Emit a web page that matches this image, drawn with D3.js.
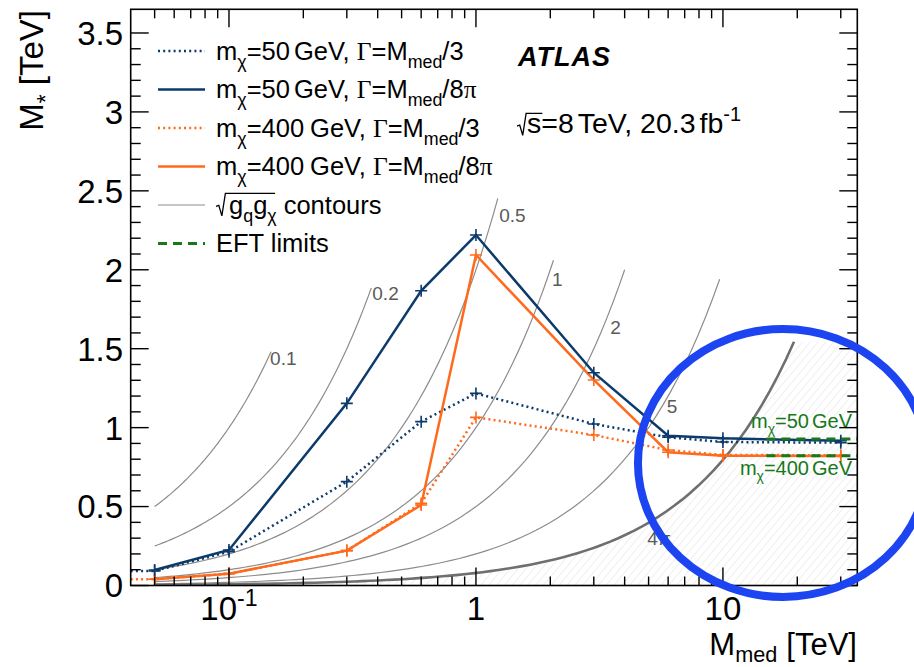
<!DOCTYPE html>
<html>
<head>
<meta charset="utf-8">
<script src="https://cdn.jsdelivr.net/npm/d3@7"></script>
<style>
  body { margin: 0; background: #fff; }
  svg { display: block; }
  text { font-family: "Liberation Sans", Arial, Helvetica, sans-serif; }
</style>
</head>
<body>
<svg id="chart" width="914" height="667"></svg>
<script>
// ---- data -------------------------------------------------------------
// mediator masses of the simplified-model points [TeV]
const mMed = [0.05, 0.1, 0.3, 0.6, 1, 3, 6, 10, 30];
// the wide-width scans start at the left edge of the plot
const mMedWide = [0.04, 0.05, 0.1, 0.3, 0.6, 1, 3, 6, 10, 30];

// lower limits on the suppression scale M* [TeV]
const mStar50Wide    = [0.092, 0.092, 0.214, 0.658, 1.038, 1.217, 1.023, 0.939, 0.909, 0.905];
const mStar50Narrow  = [0.098, 0.225, 1.154, 1.867, 2.220, 1.348, 0.949, 0.932, 0.917];
const mStar400Wide   = [0.040, 0.040, 0.075, 0.221, 0.520, 1.065, 0.953, 0.858, 0.827, 0.825];
const mStar400Narrow = [0.040, 0.075, 0.221, 0.510, 2.094, 1.302, 0.844, 0.822, 0.820];

// coupling contours sqrt(gq*gchi): M* = Mmed / sqrt(gq*gchi)
const couplings      = [0.1, 0.2, 0.5, 1, 2, 5, 4 * Math.PI];
const couplingLabels = ["0.1", "0.2", "0.5", "1", "2", "5", "4π"];
const contourMmedMax = [0.148, 0.377, 1.226, 2.06, 4.0, 9.7, 19.4];

// EFT limits (mchi = 50 GeV, 400 GeV) [TeV]
const eftMmed   = [15, 35];
const eftLimits = [0.928, 0.822];

// axis ticks
const yMajorTicks = [0, 0.5, 1, 1.5, 2, 2.5, 3, 3.5];
const yTickLabels = ["0", "0.5", "1", "1.5", "2", "2.5", "3", "3.5"];
const xMajorTicks = [0.1, 1, 10];
const xTickLabels = [[{t: "10"}, {t: "-1", sup: true}], [{t: "1"}], [{t: "10"}]];

// ---- layout -----------------------------------------------------------
const svg = d3.select("#chart");
const x = d3.scaleLog().domain([0.04, 35]).range([130.7, 857.3]);
const y = d3.scaleLinear().domain([0, 3.65]).range([585.5, 9.3]);
const [x0, x1] = x.range();
const [yb, yt] = y.range();

const BLUE = "#0c3a6b", ORANGE = "#ff6a1c", GREEN = "#16781a", GREY = "#8c8c8c";
const SERIF = '"Liberation Serif", "Times New Roman", serif';

// text helper: parts with optional sub/superscript and serif glyphs
function rich(sel, parts, fs, subShift = 0.32) {
  let shift = 0;
  parts.forEach(p => {
    const ts = sel.append("tspan").text(p.t);
    const target = p.sub ? subShift * fs : p.sup ? -0.42 * fs : 0;
    if (target !== shift) ts.attr("dy", target - shift);
    shift = target;
    if (p.sub || p.sup) ts.attr("font-size", 0.7 * fs);
    if (p.serif) ts.attr("font-family", SERIF);
    if (p.dx) ts.attr("dx", p.dx);
  });
  return sel;
}

const defs = svg.append("defs");
defs.append("clipPath").attr("id", "plotClip")
  .append("rect").attr("x", x0).attr("y", yt).attr("width", x1 - x0).attr("height", yb - yt);

const hatch = defs.append("pattern").attr("id", "hatch")
  .attr("patternUnits", "userSpaceOnUse").attr("width", 6).attr("height", 6)
  .attr("patternTransform", "rotate(40)");
hatch.append("line").attr("x1", 0).attr("y1", 0).attr("x2", 0).attr("y2", 6)
  .attr("stroke", "#e0e0e0").attr("stroke-width", 1);

const plot = svg.append("g").attr("clip-path", "url(#plotClip)");

// non-perturbative region below the 4π contour
const g4pi = couplings[couplings.length - 1];
const capMstar = contourMmedMax[contourMmedMax.length - 1] / g4pi;
const samples = d3.range(0, 201).map(i => 0.04 * Math.pow(35 / 0.04, i / 200));
plot.append("path")
  .attr("d", d3.area().x(d => x(d)).y0(yb).y1(d => y(Math.min(d / g4pi, capMstar)))(samples))
  .attr("fill", "url(#hatch)");

// coupling contours
couplings.forEach((g, i) => {
  const pts = d3.range(0, 81).map(k => 0.05 * Math.pow(contourMmedMax[i] / 0.05, k / 80));
  const last = i === couplings.length - 1;
  plot.append("path")
    .attr("d", d3.line().x(d => x(d)).y(d => y(d / g))(pts))
    .attr("fill", "none")
    .attr("stroke", last ? "#6f6f6f" : GREY)
    .attr("stroke-width", last ? 2.6 : 1.2);
});

// contour labels: height along the contour [TeV] and offsets [px]
const contourLabelAt = [1.44, 1.85, 2.35, 1.94, 1.64, 1.14, 0.345];
const contourLabelDx = [2, 3, 6, 5, 7, 4, 14];
const contourLabelDy = [7, 7, 7, 7, 7, 7, 14];
couplings.forEach((g, i) => {
  svg.append("text")
    .attr("x", x(contourLabelAt[i] * g) + contourLabelDx[i])
    .attr("y", y(contourLabelAt[i]) + contourLabelDy[i])
    .attr("font-size", 19).attr("fill", "#5a5a5a")
    .text(couplingLabels[i]);
});

// limit curves
const series = [
  {xs: mMedWide, ys: mStar50Wide,    color: BLUE,   dash: "2,3.2"},
  {xs: mMedWide, ys: mStar400Wide,   color: ORANGE, dash: "2,3.2"},
  {xs: mMed,     ys: mStar400Narrow, color: ORANGE, dash: null},
  {xs: mMed,     ys: mStar50Narrow,  color: BLUE,   dash: null}
];
const line = d3.line().x(d => x(d[0])).y(d => y(d[1]));
series.forEach(s => {
  const pts = s.xs.map((v, i) => [v, s.ys[i]]);
  plot.append("path")
    .attr("d", line(pts))
    .attr("fill", "none").attr("stroke", s.color)
    .attr("stroke-width", 2.5)
    .attr("stroke-dasharray", s.dash);
  const m = 6;
  plot.append("g").selectAll("path")
    .data(pts.filter(p => p[0] > x.domain()[0]))
    .join("path")
    .attr("d", p => `M${x(p[0]) - m},${y(p[1])}h${2 * m}M${x(p[0])},${y(p[1]) - m}v${2 * m}`)
    .attr("stroke", s.color).attr("stroke-width", 1.6);
});

// EFT limits
eftLimits.forEach(v => {
  plot.append("path")
    .attr("d", line(eftMmed.map(m => [m, v])))
    .attr("stroke", GREEN).attr("stroke-width", 3.2)
    .attr("stroke-dasharray", "9,6");
});
rich(svg.append("text").attr("x", 852).attr("y", y(eftLimits[0]) - 11)
  .attr("text-anchor", "end").attr("font-size", 20).attr("fill", GREEN),
  [{t: "m"}, {t: "χ", sub: true}, {t: "=50"}, {t: "GeV", dx: 3}], 20);
rich(svg.append("text").attr("x", 852).attr("y", y(eftLimits[1]) + 19)
  .attr("text-anchor", "end").attr("font-size", 20).attr("fill", GREEN),
  [{t: "m"}, {t: "χ", sub: true}, {t: "=400"}, {t: "GeV", dx: 3}], 20);

// ---- axes -------------------------------------------------------------
const axes = svg.append("g").attr("stroke", "#000").attr("stroke-width", 1.4);
const yMinor = d3.range(0, 36).map(i => i / 10).filter(v => !yMajorTicks.includes(v));
yMajorTicks.forEach(v => {
  axes.append("line").attr("x1", x0).attr("x2", x0 + 18).attr("y1", y(v)).attr("y2", y(v));
  axes.append("line").attr("x1", x1).attr("x2", x1 - 18).attr("y1", y(v)).attr("y2", y(v));
});
yMinor.forEach(v => {
  axes.append("line").attr("x1", x0).attr("x2", x0 + 10).attr("y1", y(v)).attr("y2", y(v));
  axes.append("line").attr("x1", x1).attr("x2", x1 - 10).attr("y1", y(v)).attr("y2", y(v));
});
const xMinor = [];
[0.01, 0.1, 1, 10].forEach(d => d3.range(2, 10).forEach(k => {
  const v = +(k * d).toPrecision(3);
  if (v > 0.04 && v < 35) xMinor.push(v);
}));
xMajorTicks.forEach(v => {
  axes.append("line").attr("x1", x(v)).attr("x2", x(v)).attr("y1", yb).attr("y2", yb - 18);
  axes.append("line").attr("x1", x(v)).attr("x2", x(v)).attr("y1", yt).attr("y2", yt + 18);
});
xMinor.forEach(v => {
  axes.append("line").attr("x1", x(v)).attr("x2", x(v)).attr("y1", yb).attr("y2", yb - 9);
  axes.append("line").attr("x1", x(v)).attr("x2", x(v)).attr("y1", yt).attr("y2", yt + 9);
});
axes.append("rect").attr("x", x0).attr("y", yt).attr("width", x1 - x0).attr("height", yb - yt)
  .attr("fill", "none").attr("stroke-width", 1.6);

yMajorTicks.forEach((v, i) => {
  svg.append("text").attr("x", 123).attr("y", y(v)).attr("dy", "0.36em")
    .attr("text-anchor", "end").attr("font-size", 33).text(yTickLabels[i]);
});
xMajorTicks.forEach((v, i) => {
  rich(svg.append("text").attr("x", x(v)).attr("y", 620)
    .attr("text-anchor", "middle").attr("font-size", 33), xTickLabels[i], 33);
});

// axis titles
rich(svg.append("text").attr("x", 857).attr("y", 655).attr("text-anchor", "end").attr("font-size", 31),
  [{t: "M"}, {t: "med", sub: true}, {t: "[TeV]", dx: 9}], 31, 0.22);
rich(svg.append("text").attr("transform", "translate(43,10) rotate(-90)")
  .attr("text-anchor", "end").attr("font-size", 33),
  [{t: "M"}, {t: "*", sub: true}, {t: "[TeV]", dx: 9}], 33);

// ---- labels -----------------------------------------------------------
svg.append("text").attr("x", 518).attr("y", 66).attr("font-size", 27)
  .attr("font-weight", "bold").attr("font-style", "italic").attr("letter-spacing", 1)
  .text("ATLAS");

function radical(g, xStart, baseY, fs, width) {
  // radical sign with overline spanning `width` px
  const top = baseY - 0.86 * fs, bot = baseY + 0.1 * fs;
  g.append("path")
    .attr("d", `M${xStart},${baseY - 0.3 * fs}l${0.12 * fs},${-0.05 * fs}L${xStart + 0.25 * fs},${bot}L${xStart + 0.4 * fs},${top}h${width}`)
    .attr("fill", "none").attr("stroke", "#000").attr("stroke-width", 1.3);
}

const EFS = 28.5;
const energy = rich(svg.append("text").attr("x", 527).attr("y", 133).attr("font-size", EFS),
  [{t: "s"}, {t: "=8"}, {t: "TeV,", dx: 4}, {t: " 20.3"}, {t: "fb", dx: 4}, {t: "-1", sup: true}], EFS);
const sW = energy.select("tspan").node().getComputedTextLength();
radical(svg, 517, 133, EFS * 0.8, sW + 2);

// legend
const legendRows = [
  {parts: [{t: "m"}, {t: "χ", sub: true}, {t: "=50"}, {t: "GeV", dx: 4}, {t: ", "}, {t: "Γ", serif: true}, {t: "=M"}, {t: "med", sub: true}, {t: "/3"}],
   color: BLUE, dash: "2,3.2", w: 2.5},
  {parts: [{t: "m"}, {t: "χ", sub: true}, {t: "=50"}, {t: "GeV", dx: 4}, {t: ", "}, {t: "Γ", serif: true}, {t: "=M"}, {t: "med", sub: true}, {t: "/8"}, {t: "π", serif: true}],
   color: BLUE, dash: null, w: 2.5},
  {parts: [{t: "m"}, {t: "χ", sub: true}, {t: "=400"}, {t: "GeV", dx: 6}, {t: ", "}, {t: "Γ", serif: true}, {t: "=M"}, {t: "med", sub: true}, {t: "/3"}],
   color: ORANGE, dash: "2,3.2", w: 2.5},
  {parts: [{t: "m"}, {t: "χ", sub: true}, {t: "=400"}, {t: "GeV", dx: 6}, {t: ", "}, {t: "Γ", serif: true}, {t: "=M"}, {t: "med", sub: true}, {t: "/8"}, {t: "π", serif: true}],
   color: ORANGE, dash: null, w: 2.5},
  {parts: null, color: GREY, dash: null, w: 1.2},
  {parts: [{t: "EFT limits"}], color: GREEN, dash: "9,6", w: 3.2}
];
const LFS = 25.5;
legendRows.forEach((r, i) => {
  const cy = 51 + i * 38.5;
  svg.append("line").attr("x1", 158).attr("x2", 205).attr("y1", cy).attr("y2", cy)
    .attr("stroke", r.color).attr("stroke-width", r.w).attr("stroke-dasharray", r.dash);
  if (r.parts) {
    rich(svg.append("text").attr("x", 216).attr("y", cy + 8.5).attr("font-size", LFS), r.parts, LFS);
  } else {
    const gt = rich(svg.append("text").attr("x", 229).attr("y", cy + 8.5).attr("font-size", LFS),
      [{t: "g"}, {t: "q", sub: true}, {t: "g"}, {t: "χ", sub: true}], LFS);
    const w = gt.node().getComputedTextLength();
    radical(svg, 216, cy + 8.5, LFS * 0.92, w + 2);
    svg.append("text").attr("x", 229 + w + 7).attr("y", cy + 8.5).attr("font-size", LFS).text("contours");
  }
});

// highlight ring around the high-mass region
svg.append("ellipse")
  .attr("cx", x(17.5)).attr("cy", y(0.776)).attr("rx", 145).attr("ry", 134)
  .attr("fill", "none").attr("stroke", "#1c44f0").attr("stroke-width", 8);
</script>
</body>
</html>
